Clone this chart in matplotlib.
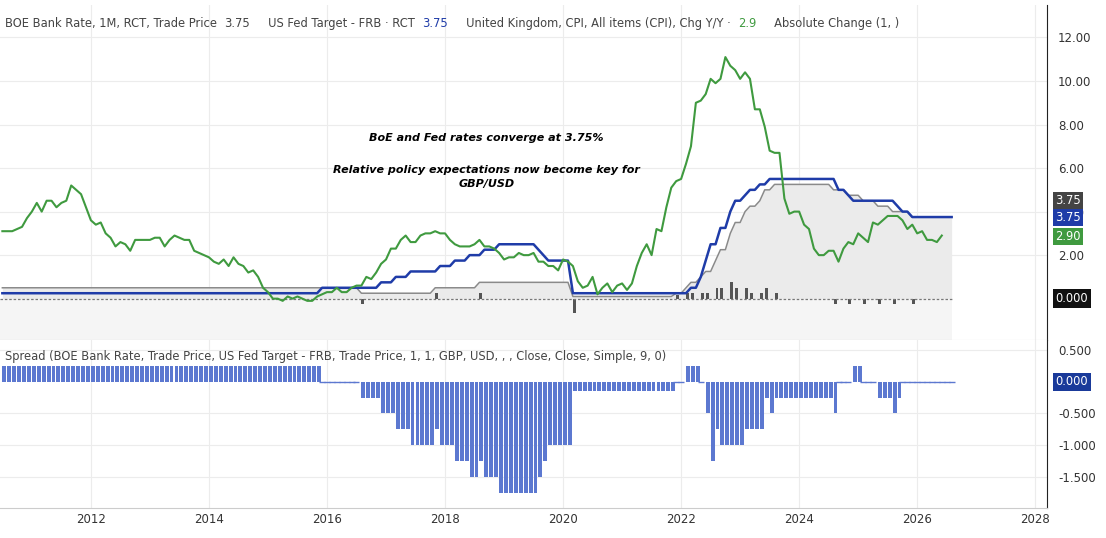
import numpy as np
import matplotlib
matplotlib.use('Agg')
import matplotlib.pyplot as plt

# monthly data starting Jul 2010
start_year, start_month = 2010, 7
n_months = 194  # through Aug 2026

# rate change points (year, month, new level)
boe_changes = [(2010, 7, 0.5), (2016, 8, 0.25), (2017, 11, 0.5), (2018, 8, 0.75),
               (2020, 3, 0.1), (2021, 12, 0.25), (2022, 2, 0.5), (2022, 3, 0.75),
               (2022, 5, 1.0), (2022, 6, 1.25), (2022, 8, 1.75), (2022, 9, 2.25),
               (2022, 11, 3.0), (2022, 12, 3.5), (2023, 2, 4.0), (2023, 3, 4.25),
               (2023, 5, 4.5), (2023, 6, 5.0), (2023, 8, 5.25), (2024, 8, 5.0),
               (2024, 11, 4.75), (2025, 2, 4.5), (2025, 5, 4.25), (2025, 8, 4.0),
               (2025, 12, 3.75)]
fed_changes = [(2010, 7, 0.25), (2015, 12, 0.5), (2016, 12, 0.75), (2017, 3, 1.0),
               (2017, 6, 1.25), (2017, 12, 1.5), (2018, 3, 1.75), (2018, 6, 2.0),
               (2018, 9, 2.25), (2018, 12, 2.5), (2019, 8, 2.25), (2019, 9, 2.0),
               (2019, 10, 1.75), (2020, 3, 0.25), (2022, 3, 0.5), (2022, 5, 1.0),
               (2022, 6, 1.75), (2022, 7, 2.5), (2022, 9, 3.25), (2022, 11, 4.0),
               (2022, 12, 4.5), (2023, 2, 4.75), (2023, 3, 5.0), (2023, 5, 5.25),
               (2023, 7, 5.5), (2024, 9, 5.0), (2024, 11, 4.75), (2024, 12, 4.5),
               (2025, 9, 4.25), (2025, 10, 4.0), (2025, 12, 3.75)]

uk_cpi = [3.1, 3.1, 3.1, 3.2, 3.3, 3.7,
          4.0, 4.4, 4.0, 4.5, 4.5, 4.2, 4.4, 4.5, 5.2, 5.0, 4.8, 4.2,
          3.6, 3.4, 3.5, 3.0, 2.8, 2.4, 2.6, 2.5, 2.2, 2.7, 2.7, 2.7,
          2.7, 2.8, 2.8, 2.4, 2.7, 2.9, 2.8, 2.7, 2.7, 2.2, 2.1, 2.0,
          1.9, 1.7, 1.6, 1.8, 1.5, 1.9, 1.6, 1.5, 1.2, 1.3, 1.0, 0.5,
          0.3, 0.0, 0.0, -0.1, 0.1, 0.0, 0.1, 0.0, -0.1, -0.1, 0.1, 0.2,
          0.3, 0.3, 0.5, 0.3, 0.3, 0.5, 0.6, 0.6, 1.0, 0.9, 1.2, 1.6,
          1.8, 2.3, 2.3, 2.7, 2.9, 2.6, 2.6, 2.9, 3.0, 3.0, 3.1, 3.0,
          3.0, 2.7, 2.5, 2.4, 2.4, 2.4, 2.5, 2.7, 2.4, 2.4, 2.3, 2.1,
          1.8, 1.9, 1.9, 2.1, 2.0, 2.0, 2.1, 1.7, 1.7, 1.5, 1.5, 1.3,
          1.8, 1.7, 1.5, 0.8, 0.5, 0.6, 1.0, 0.2, 0.5, 0.7, 0.3, 0.6,
          0.7, 0.4, 0.7, 1.5, 2.1, 2.5, 2.0, 3.2, 3.1, 4.2, 5.1, 5.4,
          5.5, 6.2, 7.0, 9.0, 9.1, 9.4, 10.1, 9.9, 10.1, 11.1, 10.7, 10.5,
          10.1, 10.4, 10.1, 8.7, 8.7, 7.9, 6.8, 6.7, 6.7, 4.6, 3.9, 4.0,
          4.0, 3.4, 3.2, 2.3, 2.0, 2.0, 2.2, 2.2, 1.7, 2.3, 2.6, 2.5,
          3.0, 2.8, 2.6, 3.5, 3.4, 3.6, 3.8, 3.8, 3.8, 3.6, 3.2, 3.4,
          3.0, 3.1, 2.7, 2.7, 2.6, 2.9]

years = np.array([start_year + (start_month - 1 + i) / 12 for i in range(n_months)])


def steps(changes):
    out = np.zeros(n_months)
    for y, m, v in changes:
        idx = (y - start_year) * 12 + (m - start_month)
        out[idx:] = v
    return out


boe = steps(boe_changes)
fed = steps(fed_changes)
boe_chg = np.diff(boe, prepend=boe[0])
spread = boe - fed
cpi = np.array(uk_cpi)

fig = plt.figure(figsize=(11.06, 5.38), dpi=100)
ax1 = fig.add_axes([0.0, 0.368, 0.9467, 0.623])
ax2 = fig.add_axes([0.0, 0.056, 0.9467, 0.312], sharex=ax1)

xmin, xmax = 2010.46, 2028.2
grid_c = '#ececec'
for ax in (ax1, ax2):
    ax.set_xlim(xmin, xmax)
    ax.yaxis.tick_right()
    ax.tick_params(axis='y', length=0, labelsize=8.5, labelcolor='#333333', pad=8)
    ax.tick_params(axis='x', length=0, labelsize=8.5, labelcolor='#333333')
    ax.set_xticks(range(2012, 2029, 2))
    ax.grid(True, color=grid_c, lw=0.8)
    ax.set_axisbelow(True)
    for s in ('top', 'left'):
        ax.spines[s].set_visible(False)
    ax.spines['right'].set_color('#222222')
    ax.spines['bottom'].set_color('#cccccc')

# top panel
ax1.set_ylim(-1.9, 13.5)
ax1.set_yticks([2, 4, 6, 8, 10, 12])
ax1.set_yticklabels(['2.00', '4.00', '6.00', '8.00', '10.00', '12.00'])
ax1.tick_params(axis='x', labelbottom=False)
ax1.axhspan(-1.9, 0, xmin=0, xmax=(years[-1] - xmin) / (xmax - xmin), color='#f5f5f5', lw=0)
ax1.fill_between(years, boe, 0, color='#ebebeb', lw=0)
ax1.axhline(0, xmax=(years[-1] - xmin) / (xmax - xmin), color='#777777', lw=0.9, ls=(0, (2, 1.5)))
ax1.bar(years, boe_chg, width=0.05, align='edge', color='#555555')
ax1.plot(years, boe, color='#8a8a8a', lw=1.1)
ax1.plot(years, fed, color='#1f3ca8', lw=1.8)
ax1.plot(years[:len(cpi)], cpi, color='#3f9a3f', lw=1.5)

lab = dict(fontsize=8.3, ha='left', va='center', transform=ax1.get_yaxis_transform())
ax1.text(1.008, 4.52, '3.75', color='white', bbox=dict(fc='#444444', ec='none', pad=1.6), **lab)
ax1.text(1.008, 3.73, '3.75', color='white', bbox=dict(fc='#1f3ca8', ec='none', pad=1.6), **lab)
ax1.text(1.008, 2.87, '2.90', color='white', bbox=dict(fc='#3f9a3f', ec='none', pad=1.6), **lab)
ax1.text(1.008, 0, '0.000', color='white', bbox=dict(fc='#111111', ec='none', pad=2), **lab)

ax1.text(2018.7, 7.4, 'BoE and Fed rates converge at 3.75%', fontsize=8, style='italic',
         weight='bold', ha='center', va='center')
ax1.text(2018.7, 5.6, 'Relative policy expectations now become key for\nGBP/USD', fontsize=8,
         style='italic', weight='bold', ha='center', va='center', linespacing=1.5)

# legend line
parts = [('BOE Bank Rate, 1M, RCT, Trade Price  ', '#444444'), ('3.75', '#444444'),
         ('     US Fed Target - FRB \u00b7 RCT  ', '#444444'), ('3.75', '#1f3ca8'),
         ('     United Kingdom, CPI, All items (CPI), Chg Y/Y \u00b7  ', '#444444'), ('2.9', '#3f9a3f'),
         ('     Absolute Change (1, )', '#444444')]
t = ax1.text(0.005, 0.935, parts[0][0], color=parts[0][1], fontsize=8.3, transform=ax1.transAxes)
fig.canvas.draw()
for txt, col in parts[1:]:
    t = ax1.annotate(txt, xycoords=t, xy=(1, 0), va='bottom', color=col, fontsize=8.3)

# bottom panel
ax2.set_ylim(-1.99, 0.66)
ax2.set_yticks([-1.5, -1.0, -0.5, 0.5])
ax2.set_yticklabels(['-1.500', '-1.000', '-0.500', '0.500'])
ax2.bar(years, spread, width=0.066, align='edge', color='#5c78d0')
ax2.plot(years[spread == 0], np.zeros((spread == 0).sum()), ls='none', marker='_',
         color='#5c78d0', ms=4)
ax2.text(1.008, 0, '0.000', color='white', fontsize=8.3, ha='left', va='center',
         transform=ax2.get_yaxis_transform(), bbox=dict(fc='#1a3a9a', ec='none', pad=2))
ax2.text(0.005, 0.9, 'Spread (BOE Bank Rate, Trade Price, US Fed Target - FRB, Trade Price, 1, 1, '
         'GBP, USD, , , Close, Close, Simple, 9, 0)', fontsize=8.3, color='#444444',
         transform=ax2.transAxes, va='center')

fig.savefig('out.png', dpi=100, facecolor='white')
